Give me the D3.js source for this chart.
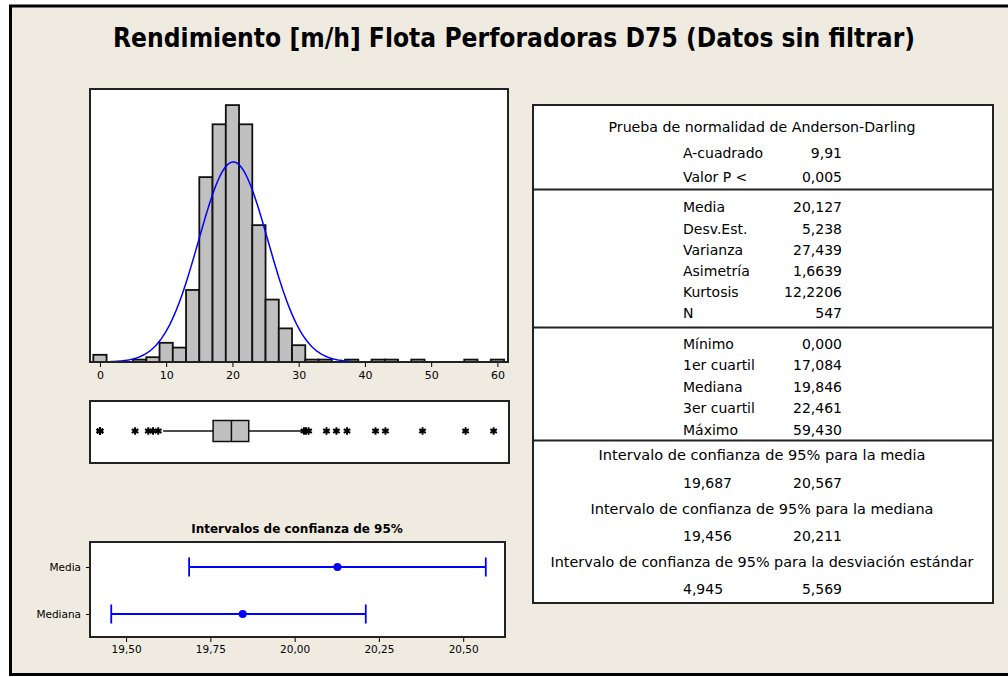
<!DOCTYPE html>
<html>
<head>
<meta charset="utf-8">
<script src="https://cdn.jsdelivr.net/npm/d3@7"></script>
<style>
  body { margin: 0; background: #fff; }
  svg { display: block; }
  text { font-family: "DejaVu Sans", Verdana, sans-serif; fill: #000; }
</style>
</head>
<body>
<div id="chart"></div>
<script>
// histogram: centre of each 2-unit bin and its count
const binWidth = 2;
const binCenters = [0, 6, 8, 10, 12, 14, 16, 18, 20, 22, 24, 26, 28, 30, 32, 34, 38, 42, 44, 48, 56, 60];
const binCounts  = [3, 1, 2, 8, 6, 30, 77, 99, 107, 99, 57, 26, 14, 7, 1, 1, 1, 1, 1, 1, 1, 1];
const histTicks = [0, 10, 20, 30, 40, 50, 60];

// summary numbers
const mean = 20.127, stdDev = 5.238, nObs = 547;
const q1 = 17.084, median = 19.846, q3 = 22.461;
const whiskerLow = 9.55, whiskerHigh = 30.5;
const outliers = [0, 0, 0, 5.3, 7.3, 8.0, 8.8, 30.8, 31.1, 31.5, 34.2, 35.7, 37.3, 41.6, 43.1, 48.7, 55.2, 59.43];

// 95% confidence intervals
const ciLabels  = ['Media', 'Mediana'];
const ciCenters = [20.127, 19.846];
const ciLow     = [19.687, 19.456];
const ciHigh    = [20.567, 20.211];
const ciTicks   = [19.5, 19.75, 20.0, 20.25, 20.5];

// table blocks
const adTitle = 'Prueba de normalidad de Anderson-Darling';
const adLabels = ['A-cuadrado', 'Valor P <'];
const adValues = ['9,91', '0,005'];
const descLabels = ['Media', 'Desv.Est.', 'Varianza', 'Asimetría', 'Kurtosis', 'N'];
const descValues = ['20,127', '5,238', '27,439', '1,6639', '12,2206', '547'];
const quartLabels = ['Mínimo', '1er cuartil', 'Mediana', '3er cuartil', 'Máximo'];
const quartValues = ['0,000', '17,084', '19,846', '22,461', '59,430'];
const ciTitles = ['Intervalo de confianza de 95% para la media',
                  'Intervalo de confianza de 95% para la mediana',
                  'Intervalo de confianza de 95% para la desviación estándar'];
const ciTableLow  = ['19,687', '19,456', '4,945'];
const ciTableHigh = ['20,567', '20,211', '5,569'];

const width = 1008, height = 677;
const svg = d3.select('#chart').append('svg').attr('width', width).attr('height', height);

// background + outer frame
svg.append('rect').attr('x', 10.5).attr('y', 6).attr('width', 1010).attr('height', 668.5)
   .attr('fill', '#efebe1').attr('stroke', '#000').attr('stroke-width', 3);

// title
svg.append('text')
   .attr('x', 514).attr('y', 47)
   .attr('text-anchor', 'middle')
   .attr('font-size', 26).attr('font-weight', 'bold')
   .attr('textLength', 802).attr('lengthAdjust', 'spacingAndGlyphs')
   .text('Rendimiento [m/h] Flota Perforadoras D75 (Datos sin filtrar)');

// ---------- histogram ----------
const hx = d3.scaleLinear().domain([-1.5, 61.6]).range([90, 508]);
const hy = d3.scaleLinear().domain([0, 113.7]).range([362, 89]);

svg.append('rect').attr('x', 90).attr('y', 89).attr('width', 418).attr('height', 273)
   .attr('fill', '#fff');

svg.append('g').selectAll('rect')
   .data(binCenters)
   .enter().append('rect')
   .attr('x', d => hx(d - binWidth / 2))
   .attr('width', d => hx(d + binWidth / 2) - hx(d - binWidth / 2))
   .attr('y', (d, i) => hy(binCounts[i]))
   .attr('height', (d, i) => hy(0) - hy(binCounts[i]))
   .attr('fill', '#c0c0c0').attr('stroke', '#111').attr('stroke-width', 1.8);

// fitted normal curve, from the mean and standard deviation in the table
const curveX = d3.range(0.75, 39.6, 0.25);
const pdf = x => nObs * binWidth * Math.exp(-0.5 * Math.pow((x - mean) / stdDev, 2)) / (stdDev * Math.sqrt(2 * Math.PI));
svg.append('path')
   .datum(curveX)
   .attr('d', d3.line().x(d => hx(d)).y(d => hy(pdf(d))))
   .attr('fill', 'none').attr('stroke', '#0000ff').attr('stroke-width', 1.5);

svg.append('rect').attr('x', 90).attr('y', 89).attr('width', 418).attr('height', 273)
   .attr('fill', 'none').attr('stroke', '#222').attr('stroke-width', 2);

const hAxis = svg.append('g').attr('transform', 'translate(0,363)')
   .call(d3.axisBottom(hx).tickValues(histTicks).tickSize(4).tickSizeOuter(0).tickPadding(4));
hAxis.select('.domain').remove();
hAxis.selectAll('text').attr('font-size', 11).attr('font-family', '"DejaVu Sans", sans-serif');

// ---------- box plot ----------
const boxY = 431;
svg.append('rect').attr('x', 90).attr('y', 401).attr('width', 419).attr('height', 62)
   .attr('fill', '#fff').attr('stroke', '#222').attr('stroke-width', 2);
svg.append('line').attr('x1', hx(whiskerLow)).attr('x2', hx(q1)).attr('y1', boxY).attr('y2', boxY)
   .attr('stroke', '#111').attr('stroke-width', 1.5);
svg.append('line').attr('x1', hx(q3)).attr('x2', hx(whiskerHigh)).attr('y1', boxY).attr('y2', boxY)
   .attr('stroke', '#111').attr('stroke-width', 1.5);
svg.append('rect').attr('x', hx(q1)).attr('y', boxY - 10.5)
   .attr('width', hx(q3) - hx(q1)).attr('height', 21)
   .attr('fill', '#c0c0c0').attr('stroke', '#111').attr('stroke-width', 1.5);
svg.append('line').attr('x1', hx(median)).attr('x2', hx(median)).attr('y1', boxY - 10.5).attr('y2', boxY + 10.5)
   .attr('stroke', '#111').attr('stroke-width', 1.5);
svg.append('g').selectAll('path')
   .data(outliers)
   .enter().append('path')
   .attr('d', d3.symbol(d3.symbolAsterisk, 40))
   .attr('transform', d => `translate(${hx(d)},${boxY})`)
   .attr('fill', 'none').attr('stroke', '#000').attr('stroke-width', 2);

// ---------- confidence interval plot ----------
const cx = d3.scaleLinear().domain([19.393, 20.624]).range([90, 505]);
const cy = d3.scalePoint().domain(ciLabels).range([567, 614]);

svg.append('text').attr('x', 297).attr('y', 533).attr('text-anchor', 'middle')
   .attr('font-size', 12).attr('font-weight', 'bold')
   .text('Intervalos de confianza de 95%');

svg.append('rect').attr('x', 90).attr('y', 542).attr('width', 415).attr('height', 95)
   .attr('fill', '#fff').attr('stroke', '#222').attr('stroke-width', 2);

const cxAxis = svg.append('g').attr('transform', 'translate(0,638)')
   .call(d3.axisBottom(cx).tickValues(ciTicks).tickSize(4).tickSizeOuter(0).tickPadding(4)
         .tickFormat(d => d3.format('.2f')(d).replace('.', ',')));
cxAxis.select('.domain').remove();
cxAxis.selectAll('text').attr('font-size', 10.5).attr('font-family', '"DejaVu Sans", sans-serif');

const cyAxis = svg.append('g').attr('transform', 'translate(89,0)')
   .call(d3.axisLeft(cy).tickSize(3).tickSizeOuter(0).tickPadding(5));
cyAxis.select('.domain').remove();
cyAxis.selectAll('text').attr('font-size', 10.5).attr('font-family', '"DejaVu Sans", sans-serif');

const ci = svg.append('g').selectAll('g')
   .data(ciLabels)
   .enter().append('g');
ci.append('line')
   .attr('x1', (d, i) => cx(ciLow[i])).attr('x2', (d, i) => cx(ciHigh[i]))
   .attr('y1', d => cy(d)).attr('y2', d => cy(d))
   .attr('stroke', '#0000ff').attr('stroke-width', 1.8);
ci.append('line')
   .attr('x1', (d, i) => cx(ciLow[i])).attr('x2', (d, i) => cx(ciLow[i]))
   .attr('y1', d => cy(d) - 9.5).attr('y2', d => cy(d) + 9.5)
   .attr('stroke', '#0000ff').attr('stroke-width', 1.8);
ci.append('line')
   .attr('x1', (d, i) => cx(ciHigh[i])).attr('x2', (d, i) => cx(ciHigh[i]))
   .attr('y1', d => cy(d) - 9.5).attr('y2', d => cy(d) + 9.5)
   .attr('stroke', '#0000ff').attr('stroke-width', 1.8);
ci.append('circle')
   .attr('cx', (d, i) => cx(ciCenters[i])).attr('cy', d => cy(d)).attr('r', 4)
   .attr('fill', '#0000ff');

// ---------- summary table ----------
const tbl = svg.append('g');
tbl.append('rect').attr('x', 533).attr('y', 105).attr('width', 460).attr('height', 498)
   .attr('fill', '#fff').attr('stroke', '#222').attr('stroke-width', 2);
[189.5, 327.5, 440.5].forEach(y => {
  tbl.append('line').attr('x1', 533).attr('x2', 993).attr('y1', y).attr('y2', y)
     .attr('stroke', '#222').attr('stroke-width', 2);
});

const fs = 14, labelX = 683, valueX = 842, midX = 762;
function row(label, value, y) {
  tbl.append('text').attr('x', labelX).attr('y', y).attr('dy', '0.35em')
     .attr('font-size', fs).text(label);
  tbl.append('text').attr('x', valueX).attr('y', y).attr('dy', '0.35em')
     .attr('text-anchor', 'end').attr('font-size', fs).text(value);
}
function centered(t, y, len) {
  tbl.append('text').attr('x', midX).attr('y', y).attr('dy', '0.35em')
     .attr('text-anchor', 'middle').attr('font-size', fs)
     .attr('textLength', len).attr('lengthAdjust', 'spacingAndGlyphs')
     .text(t);
}

centered(adTitle, 127, 307);
adLabels.forEach((l, i) => row(l, adValues[i], 153.5 + i * 23.3));
descLabels.forEach((l, i) => row(l, descValues[i], 207.5 + i * 21.2));
quartLabels.forEach((l, i) => row(l, quartValues[i], 344 + i * 21.4));
const ciTitleLen = [327, 343, 423];
ciTitles.forEach((t, i) => {
  const y0 = 455.5 + i * 53.2;
  centered(t, y0, ciTitleLen[i]);
  row(ciTableLow[i], ciTableHigh[i], y0 + 27.5);
});
</script>
</body>
</html>
